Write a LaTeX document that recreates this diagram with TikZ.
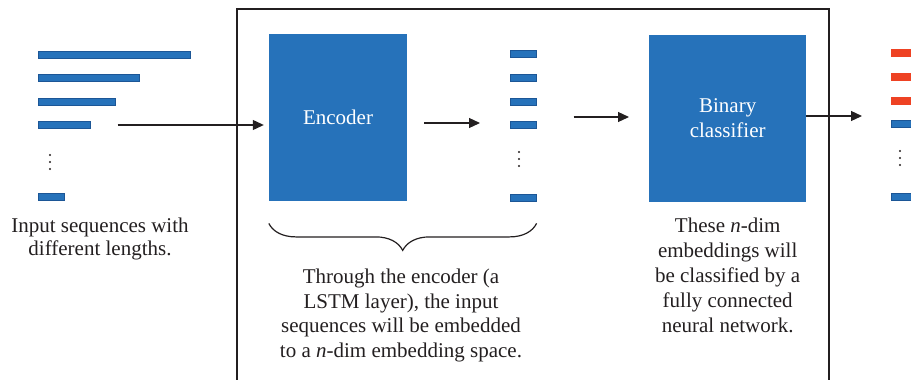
\documentclass[tikz,border=0pt]{standalone}
\usepackage{fontspec}
\setmainfont{Liberation Serif}
\usetikzlibrary{arrows.meta,decorations.pathreplacing}

\definecolor{boxblue}{RGB}{38,114,186}
\definecolor{barline}{RGB}{28,86,150}
\definecolor{barred}{RGB}{238,66,35}
\definecolor{inkgray}{RGB}{35,31,32}

\begin{document}
\begin{tikzpicture}[x=1pt,y=-1pt,
    every node/.style={font=\fontsize{21}{24.5}\selectfont,text=inkgray},
    block/.style={rectangle,fill=boxblue,text=white,minimum height=167pt,inner sep=0pt,align=center},
    seqbar/.style={rectangle,fill=boxblue,draw=barline,line width=0.6pt,minimum height=7pt,inner sep=0pt,anchor=west},
    hotbar/.style={seqbar,fill=barred,draw=barred},
    note/.style={align=center,anchor=north,inner sep=0pt},
    flow/.style={draw=inkgray,line width=1.2pt,-{Triangle[length=11pt,width=10pt]}}]
  \useasboundingbox (0,0) rectangle (911,380);
  %% frame round encoder + classifier
  \draw[inkgray,line width=1.3pt] (237,9) rectangle (829,381);
  %% input sequences
  \foreach \i/\w/\y in {1/152/54.5,2/101/78,3/77/101.5,4/52/125,5/26/197}
    \node[seqbar,minimum width=\w pt] (in\i) at (38,\y) {};
  \foreach \y in {155,162,169} \fill[inkgray] (50,\y) circle (1.2pt);
  \node[note,font=\fontsize{21}{23.5}\selectfont] (intext) at (100,217.4)
    {Input sequences with\\different lengths.};
  %% encoder
  \node[block,minimum width=138pt] (enc) at (338,117.7) {Encoder};
  %% embeddings
  \foreach \i/\y in {1/53.5,2/77.5,3/101.5,4/125,5/197.5}
    \node[seqbar,minimum width=26pt] (emb\i) at (510,\y) {};
  \foreach \y in {152,159,166} \fill[inkgray] (519,\y) circle (1.2pt);
  % brace under encoder + embeddings
  \coordinate (braceL) at ([yshift=-22pt]enc.south west);
  \coordinate (braceR) at ([yshift=-22pt]emb5.south east |- enc.south);
  \draw[inkgray,line width=1.2pt,decorate,decoration={brace,mirror,amplitude=27pt}]
    (braceL) -- (braceR);
  \node[note] (enctext) at (401,268.8)
    {Through the encoder (a\\LSTM layer), the input\\sequences will be embedded\\to a \textit{n}-dim embedding space.};
  %% classifier
  \node[block,minimum width=157pt] (cls) at (727.7,118.3) {Binary\\classifier};
  \node[note,font=\fontsize{21}{25}\selectfont] (clstext) at (727.7,217.4)
    {These \textit{n}-dim\\embeddings will\\be classified by a\\fully connected\\neural network.};
  %% outputs
  \foreach \i/\y in {1/52.7,2/76.3,3/101.2}
    \node[hotbar,minimum width=26pt] (out\i) at (891,\y) {};
  \foreach \i/\y in {4/124.2,5/196.3}
    \node[seqbar,minimum width=26pt] (out\i) at (891,\y) {};
  \foreach \y in {151,158,165} \fill[inkgray] (900,\y) circle (1.2pt);
  %% arrows
  \draw[flow] ([xshift=27pt]in4.east) -- ([xshift=-5pt]enc.west |- in4.east);
  \draw[flow] ([xshift=17pt]enc.east |- 0,123) -- ([xshift=-30pt]emb4.west |- 0,123);
  \draw[flow] ([xshift=37pt]emb4.east |- 0,117) -- ([xshift=-20pt]cls.west |- 0,117);
  \draw[flow] (cls.east |- 0,116) -- ([xshift=-29pt]out4.west |- 0,116);
\end{tikzpicture}
\end{document}
